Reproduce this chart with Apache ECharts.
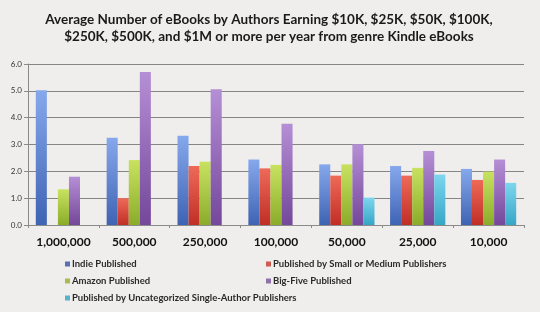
<!DOCTYPE html>
<html><head><meta charset="utf-8">
<script src="https://cdn.jsdelivr.net/npm/echarts@6/dist/echarts.min.js"></script>
<style>html,body{margin:0;padding:0;background:#efeeec;}#c{width:540px;height:312px;}</style>
</head><body><div id="c"></div>
<script>
const categories = ['1,000,000','500,000','250,000','100,000','50,000','25,000','10,000'];
const indie = [5.02, 3.25, 3.33, 2.44, 2.26, 2.20, 2.09];
const smallMedium = [0, 1.00, 2.20, 2.11, 1.84, 1.84, 1.68];
const amazon = [1.33, 2.42, 2.36, 2.24, 2.26, 2.13, 1.99];
const bigFive = [1.80, 5.70, 5.06, 3.77, 3.01, 2.76, 2.44];
const uncategorized = [0, 0, 0, 0, 1.02, 1.88, 1.57];
const yTicks = [0, 1, 2, 3, 4, 5, 6];

const names = ['Indie Published','Published by Small or Medium Publishers','Amazon Published','Big-Five Published','Published by Uncategorized Single-Author Publishers'];
const seriesData = [indie, smallMedium, amazon, bigFive, uncategorized];
const colors = [['#86a8ec','#3e63b2'],['#ee6a58','#c02e26'],['#c8e260','#8aac2a'],['#b58fd6','#74479a'],['#7dd6ee','#36a6c6']];
const legendColors = ['#5a6fb0','#cf5a50','#a8bc50','#8f72aa','#5ab2c6'];
const FONT = 'Lato';

const legendItem = i => ({name: names[i], itemStyle: {color: legendColors[i]}});
const legendText = {fontFamily: FONT, fontSize: 9.5, fontWeight: 'bold', color: '#2a2a2a', padding: [0,0,0,-3]};

const chart = echarts.init(document.getElementById('c'), null, {renderer:'canvas'});
chart.setOption({
  backgroundColor: '#efeeec',
  animation: false,
  title: {
    text: 'Average Number of eBooks by Authors Earning $10K, $25K, $50K, $100K,\n$250K, $500K, and $1M or more per year from genre Kindle eBooks',
    left: 264, top: 6, textAlign: 'center',
    textStyle: {fontFamily: FONT, fontSize: 13.5, fontWeight: 'bold', color: '#1a1a1a', lineHeight: 17}
  },
  legend: [
    {data: [legendItem(0), legendItem(2), legendItem(4)], orient: 'vertical', left: 60, top: 254, itemWidth: 5, itemHeight: 5, itemGap: 7, icon: 'rect', textStyle: legendText},
    {data: [legendItem(1), legendItem(3)], orient: 'vertical', left: 261, top: 254, itemWidth: 5, itemHeight: 5, itemGap: 7, icon: 'rect', textStyle: legendText}
  ],
  grid: {left: 28, right: 16, top: 64, bottom: 87, containLabel: false},
  xAxis: {
    type: 'category', data: categories,
    axisLine: {lineStyle: {color: '#8a8a8a', width: 1}},
    axisTick: {show: true, length: 3, lineStyle: {color: '#8a8a8a'}},
    axisLabel: {fontFamily: FONT, fontSize: 12, fontWeight: 'bold', color: '#111', margin: 11}
  },
  yAxis: {
    type: 'value', min: yTicks[0], max: yTicks[yTicks.length-1], interval: 1,
    axisLine: {show: true, lineStyle: {color: '#8a8a8a'}},
    axisTick: {show: true, length: 4, lineStyle: {color: '#8a8a8a'}},
    axisLabel: {fontFamily: FONT, fontSize: 8, color: '#333', margin: 6, formatter: v => v.toFixed(1)},
    splitLine: {lineStyle: {color: '#858585', width: 1}}
  },
  series: seriesData.map((d, i) => ({
    name: names[i], type: 'bar', data: d,
    barGap: '0%', barCategoryGap: '22%',
    itemStyle: {
      color: new echarts.graphic.LinearGradient(0, 0, 0, 1, [{offset: 0, color: colors[i][0]}, {offset: 1, color: colors[i][1]}])
    }
  })),
  color: legendColors
});
</script></body></html>
